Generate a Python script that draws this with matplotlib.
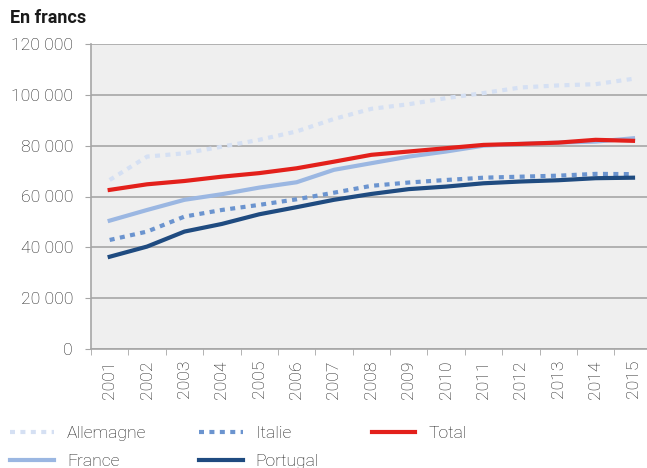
import matplotlib
matplotlib.use("Agg")
import matplotlib.pyplot as plt
import numpy as np

plt.rcParams['font.family'] = ['Roboto', 'DejaVu Sans']

years = [str(y) for y in range(2001, 2016)]

allemagne = [66500, 75700, 77000, 79600, 82300, 85600, 90500, 94500, 96300, 98700,
             100700, 102900, 103700, 104200, 106300]
italie = [42900, 46200, 52100, 54700, 56700, 58900, 61500, 64200, 65500, 66500,
          67400, 67800, 68200, 68900, 68800]
total = [62600, 64800, 66100, 67800, 69200, 71100, 73700, 76400, 77700, 79000,
         80300, 80700, 81200, 82300, 81900]
france = [50500, 54700, 58700, 60900, 63500, 65600, 70500, 73100, 75700, 77700,
          80000, 80700, 81200, 81600, 82900]
portugal = [36300, 40300, 46200, 49200, 53000, 55800, 58700, 61000, 62900, 63900,
            65200, 65900, 66400, 67200, 67400]

yticks = [0, 20000, 40000, 60000, 80000, 100000, 120000]

W, H = 647, 468
fs = 12.6
txt = '#1e1e1e'
fig = plt.figure(figsize=(W / 100, H / 100), dpi=100)
ax = fig.add_axes([91 / W, (H - 349) / H, (651.7 - 91) / W, (349 - 44) / H])
ax.set_facecolor('#efefef')

x = np.arange(len(years))
dots = (0, (1.2, 1.3))
lw = 3.0

l_all, = ax.plot(x, allemagne, color='#d5e0f3', lw=lw, linestyle=dots,
                 dash_capstyle='butt', label='Allemagne', zorder=3)
l_fra, = ax.plot(x, france, color='#9bb7e2', lw=lw, label='France', zorder=3)
l_ita, = ax.plot(x, italie, color='#6b94cf', lw=lw, linestyle=dots,
                 dash_capstyle='butt', label='Italie', zorder=3)
l_por, = ax.plot(x, portugal, color='#1f4b80', lw=lw, label='Portugal', zorder=4)
l_tot, = ax.plot(x, total, color='#e3201b', lw=lw, label='Total', zorder=3)

ax.set_xlim(-0.5, len(years) - 0.5)
ax.set_ylim(0, 120000)
ax.set_yticks(yticks)
ax.set_yticklabels([f"{v:,}".replace(",", " ") for v in yticks], fontsize=fs,
                   color=txt, fontweight='light')
ax.yaxis.grid(True, color='#a6a6a6', lw=1.2, zorder=1)
ax.set_axisbelow(True)

ax.set_xticks(x)
ax.set_xticklabels(years, rotation=90, fontsize=fs, color=txt, fontweight='light')
ax.tick_params(axis='x', length=0, pad=8)
ax.set_xticks(np.arange(-0.5, len(years)), minor=True)
ax.tick_params(axis='x', which='minor', length=4, color='#a6a6a6')
ax.tick_params(axis='y', length=4, color='#a6a6a6', pad=9)

for s in ['top', 'right']:
    ax.spines[s].set_visible(False)
for s in ['left', 'bottom']:
    ax.spines[s].set_color('#a6a6a6')
    ax.spines[s].set_linewidth(1.2)

fig.text(10 / W, 1 - 18 / H, 'En francs', fontsize=13, fontweight='bold',
         va='center', ha='left', color='#1a1a1a')

fig.legend(handles=[l_all, l_fra, l_ita, l_por, l_tot], ncol=3,
           loc='upper left', bbox_to_anchor=(10 / W, 1 - 426 / H),
           frameon=False, handlelength=2.5, handletextpad=0.75,
           columnspacing=3.0, labelspacing=0.7, borderpad=0, borderaxespad=0,
           labelcolor=txt, prop={'size': fs, 'weight': 'light'})

fig.savefig('out.png', dpi=100)
